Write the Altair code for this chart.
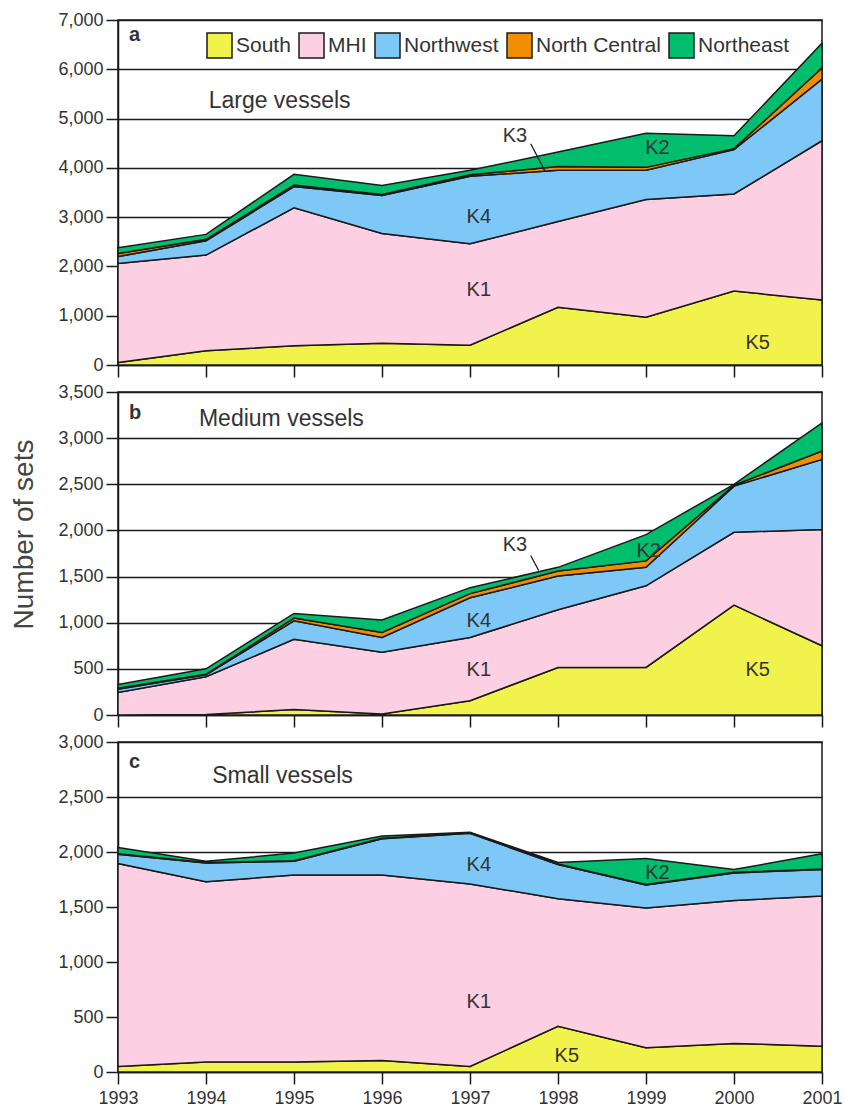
import altair as alt
import pandas as pd

years = [1993, 1994, 1995, 1996, 1997, 1998, 1999, 2000, 2001]
regions = ["South", "MHI", "Northwest", "North Central", "Northeast"]
region_colors = ["#f2f24c", "#fccfe3", "#7dc8f7", "#f08e00", "#00be6e"]

# Number of sets per region, stacked bottom to top in the order of `regions`
large_south = [50, 290, 390, 440, 400, 1170, 970, 1500, 1320]
large_mhi = [2010, 1940, 2800, 2230, 2060, 1740, 2390, 1970, 3230]
large_northwest = [140, 290, 430, 770, 1370, 1040, 590, 900, 1250]
large_north_central = [60, 30, 30, 20, 30, 80, 60, 20, 230]
large_northeast = [120, 100, 220, 180, 90, 290, 690, 260, 500]

medium_south = [0, 5, 60, 10, 155, 515, 515, 1190, 750]
medium_mhi = [245, 410, 760, 670, 685, 625, 885, 790, 1260]
medium_northwest = [35, 20, 200, 160, 430, 365, 200, 500, 760]
medium_north_central = [10, 8, 30, 55, 45, 55, 70, 10, 90]
medium_northeast = [40, 57, 50, 135, 65, 40, 285, 10, 305]

small_south = [50, 90, 90, 105, 50, 415, 220, 260, 235]
small_mhi = [1845, 1640, 1700, 1685, 1660, 1160, 1270, 1300, 1365]
small_northwest = [85, 170, 125, 330, 460, 310, 210, 250, 240]
small_north_central = [5, 5, 5, 5, 5, 5, 5, 5, 5]
small_northeast = [55, 10, 70, 20, 5, 15, 235, 25, 140]

# Cluster labels: (year, sets, text)
large_notes = [(1997.51, 4650, "K3"), (1999.13, 4407, "K2"), (1997.1, 3009, "K4"),
               (1997.1, 1530, "K1"), (2000.27, 456, "K5")]
medium_notes = [(1997.51, 1847, "K3"), (1999.03, 1774, "K2"), (1997.1, 1018, "K4"),
                (1997.1, 489, "K1"), (2000.27, 489, "K5")]
small_notes = [(1997.1, 1880, "K4"), (1999.13, 1811, "K2"), (1997.1, 633, "K1"),
               (1998.1, 148, "K5")]

# Leader lines from the K3 label to its thin band: (year, sets, year2, sets2)
large_leader = [(1997.69, 4488, 1997.85, 3941)]
medium_leader = [(1997.69, 1728, 1997.78, 1566)]

FONT = "Liberation Sans"
INK = "#1a1a1a"
TEXT = "#333333"
PLOT_W = 704

legend = alt.Legend(
    orient="none", legendX=88, legendY=12, direction="horizontal", title=None,
    symbolType="square", symbolSize=625, symbolStrokeColor=INK, symbolStrokeWidth=1.5,
    symbolOpacity=1, labelFont=FONT, labelFontSize=21, labelColor=TEXT,
    labelOffset=3, columnPadding=5, padding=0,
)


def stacked_panel(series, ymax, step, height, letter, letter_pos, name, name_pos,
                  notes, leaders, show_years, y_title, show_legend):
    rows = []
    for rank, (region, values) in enumerate(zip(regions, series)):
        for yr, v in zip(years, values):
            rows.append({"year": yr, "sets": v, "region": region, "rank": rank})
    df = pd.DataFrame(rows)

    x = alt.X(
        "year:Q",
        scale=alt.Scale(domain=[1993, 2001], nice=False, zero=False),
        axis=alt.Axis(values=years, format="d", labels=show_years, title=None, grid=False,
                      tickSize=12, labelFontSize=18, labelPadding=5, labelFlush=False),
    )
    y_axis = dict(values=list(range(0, ymax + 1, step)), format=",.0f", grid=True,
                  tickSize=12, labelFontSize=18, labelPadding=3)
    if y_title:
        y_axis.update(title=y_title, titleFontSize=28, titleX=-94, titleY=142,
                      titleBaseline="middle")
    else:
        y_axis.update(title=None)
    y = alt.Y("sets:Q", stack="zero", scale=alt.Scale(domain=[0, ymax], nice=False),
              axis=alt.Axis(**y_axis))

    color_scale = alt.Scale(domain=regions, range=region_colors)
    if show_legend:
        color = alt.Color("region:N", scale=color_scale, legend=legend)
    else:
        color = alt.Color("region:N", scale=color_scale, legend=None)

    areas = alt.Chart(df).mark_area(stroke=INK, strokeWidth=1.5, opacity=1).encode(
        x=x, y=y, color=color, order=alt.Order("rank:Q"),
    )

    layers = [areas]
    if leaders:
        lead_df = pd.DataFrame(leaders, columns=["year", "sets", "year2", "sets2"])
        layers.append(alt.Chart(lead_df).mark_rule(color=INK, strokeWidth=1.3).encode(
            x="year:Q", x2="year2:Q", y="sets:Q", y2="sets2:Q"))

    note_df = pd.DataFrame(notes, columns=["year", "sets", "label"])
    layers.append(alt.Chart(note_df).mark_text(font=FONT, fontSize=20, color=TEXT).encode(
        x="year:Q", y="sets:Q", text="label:N"))

    tag_df = pd.DataFrame([(letter_pos[0], letter_pos[1], letter)],
                          columns=["year", "sets", "label"])
    layers.append(alt.Chart(tag_df).mark_text(font=FONT, fontSize=20, fontWeight="bold",
                                              color=TEXT, align="left").encode(
        x="year:Q", y="sets:Q", text="label:N"))

    name_df = pd.DataFrame([(name_pos[0], name_pos[1], name)],
                           columns=["year", "sets", "label"])
    layers.append(alt.Chart(name_df).mark_text(font=FONT, fontSize=23, color=TEXT,
                                               align="left").encode(
        x="year:Q", y="sets:Q", text="label:N"))

    return alt.layer(*layers).properties(width=PLOT_W, height=height)


panel_a = stacked_panel(
    [large_south, large_mhi, large_northwest, large_north_central, large_northeast],
    7000, 1000, 345, "a", (1993.125, 6696), "Large vessels", (1994.03, 5359),
    large_notes, large_leader, False, None, True)
panel_b = stacked_panel(
    [medium_south, medium_mhi, medium_northwest, medium_north_central, medium_northeast],
    3500, 500, 323, "b", (1993.125, 3272), "Medium vessels", (1993.92, 3208),
    medium_notes, medium_leader, False, "Number of sets", False)
panel_c = stacked_panel(
    [small_south, small_mhi, small_northwest, small_north_central, small_northeast],
    3000, 500, 330, "c", (1993.125, 2818), "Small vessels", (1994.07, 2690),
    small_notes, None, True, None, False)

chart = alt.vconcat(panel_a, panel_b, panel_c, spacing=3).resolve_scale(
    color="independent"
).properties(
    padding={"left": 9, "top": 10, "right": 0, "bottom": 0}
).configure_view(
    stroke=INK, strokeWidth=1.5
).configure_axis(
    domainColor=INK, domainWidth=1.5, tickColor=INK, tickWidth=1.5,
    gridColor=INK, gridWidth=1.5, gridOpacity=1,
    labelColor=TEXT, labelFont=FONT, titleFont=FONT, titleColor="#444444",
    titleFontWeight="normal",
)

chart.save("out.html", embed_options={"renderer": "svg", "actions": False})
